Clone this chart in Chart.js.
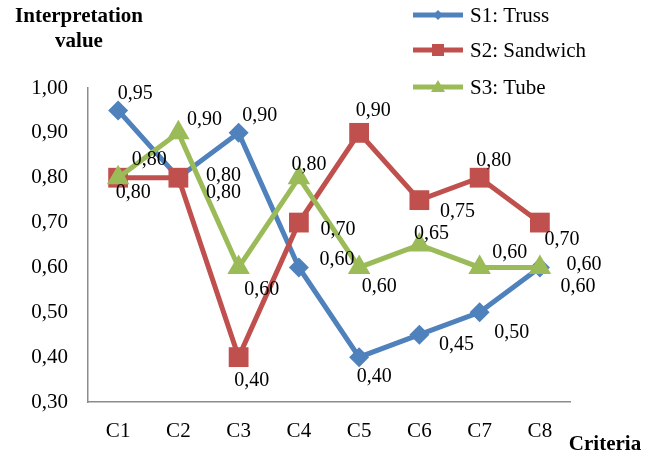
<!DOCTYPE html>
<html lang="en">
<head>
  <meta charset="UTF-8">
  <title>Interpretation value by criteria</title>
  <script src="https://cdn.jsdelivr.net/npm/chart.js@4.4.1/dist/chart.umd.min.js"></script>
  <style>
    html, body { margin: 0; padding: 0; background: #fff; }
    #wrap { width: 657px; height: 455px; position: relative; }
  </style>
</head>
<body>
  <div id="wrap"><canvas id="criteriaChart"></canvas></div>

  <script>
    // data
    const criteria = ['C1', 'C2', 'C3', 'C4', 'C5', 'C6', 'C7', 'C8'];
    const truss    = [0.95, 0.80, 0.90, 0.60, 0.40, 0.45, 0.50, 0.60];
    const sandwich = [0.80, 0.80, 0.40, 0.70, 0.90, 0.75, 0.80, 0.70];
    const tube     = [0.80, 0.90, 0.60, 0.80, 0.60, 0.65, 0.60, 0.60];
    const seriesNames = ['S1: Truss', 'S2: Sandwich', 'S3: Tube'];

    // where each value label sits relative to its point (px)
    const labelOffsets = [
      [[17, -17], [45, -2], [21, -17], [38, -8], [15, 20], [37, 10], [32, 20], [44, -3]],
      [[15, 15], [45, 15], [13, 24], [39, 7], [14, -22], [38, 12], [14, -17], [22, 17]],
      [[31, -18], [26, -13], [23, 22], [10, -13], [20, 19], [12, -11], [30, -15], [38, 19]]
    ];

    const colors = ['#4F81BD', '#C0504D', '#9BBB59'];
    const shapes = ['rectRot', 'rect', 'triangle'];
    const radii = [10, 14, 13];
    const serif = "'Liberation Serif', 'Times New Roman', serif";

    function fmt(v) {
      return v.toFixed(2).replace('.', ',');
    }

    // value labels next to every point
    const valueLabels = {
      id: 'valueLabels',
      afterDatasetsDraw(chart) {
        const ctx = chart.ctx;
        ctx.save();
        ctx.font = '20px ' + serif;
        ctx.fillStyle = '#000';
        ctx.textAlign = 'center';
        ctx.textBaseline = 'middle';
        chart.data.datasets.forEach((ds, i) => {
          const meta = chart.getDatasetMeta(i);
          meta.data.forEach((pt, j) => {
            const off = labelOffsets[i][j];
            ctx.fillText(fmt(ds.data[j]), pt.x + off[0], pt.y + off[1]);
          });
        });
        ctx.restore();
      }
    };

    // axis titles and the legend in the top right
    const extras = {
      id: 'extras',
      afterDraw(chart) {
        const ctx = chart.ctx;
        ctx.save();
        ctx.fillStyle = '#000';
        ctx.font = 'bold 21px ' + serif;
        ctx.textAlign = 'center';
        ctx.textBaseline = 'middle';
        ctx.fillText('Interpretation', 79, 17);
        ctx.fillText('value', 79, 42);
        ctx.fillText('Criteria', 605, 445);

        const rows = [15, 50, 87];
        ctx.font = '21px ' + serif;
        ctx.textAlign = 'left';
        rows.forEach((y, i) => {
          ctx.strokeStyle = colors[i];
          ctx.lineWidth = 5;
          ctx.beginPath();
          ctx.moveTo(413, y);
          ctx.lineTo(463, y);
          ctx.stroke();
          ctx.fillStyle = colors[i];
          ctx.beginPath();
          if (i === 0) {
            ctx.moveTo(438, y - 5); ctx.lineTo(443, y); ctx.lineTo(438, y + 5); ctx.lineTo(433, y);
          } else if (i === 1) {
            ctx.rect(432, y - 6, 12, 12);
          } else {
            ctx.moveTo(438, y - 7); ctx.lineTo(445, y + 5); ctx.lineTo(431, y + 5);
          }
          ctx.closePath();
          ctx.fill();
          ctx.fillStyle = '#000';
          ctx.fillText(seriesNames[i], 470, y + 1);
        });
        ctx.restore();
      }
    };

    const seriesData = [truss, sandwich, tube];
    const datasets = seriesData.map((d, i) => ({
      label: seriesNames[i],
      data: d,
      borderColor: colors[i],
      backgroundColor: colors[i],
      borderWidth: 5,
      pointStyle: shapes[i],
      pointRadius: radii[i],
      pointHoverRadius: radii[i],
      pointBorderWidth: 0,
      tension: 0,
      order: 3 - i
    }));

    const ctx = document.getElementById('criteriaChart').getContext('2d');
    new Chart(ctx, {
      type: 'line',
      data: { labels: criteria, datasets: datasets },
      options: {
        responsive: true,
        maintainAspectRatio: false,
        animation: false,
        layout: { padding: { left: 0, top: 88, right: 87, bottom: 0 } },
        plugins: {
          legend: { display: false },
          tooltip: { enabled: false }
        },
        scales: {
          x: {
            offset: true,
            grid: { display: false, drawTicks: false },
            border: { display: true, color: '#8c8c8c', width: 1.5 },
            ticks: { color: '#000', font: { family: serif, size: 21 }, padding: 17 },
            afterFit(scale) { scale.height = 53; }
          },
          y: {
            min: 0.3,
            max: 1.0,
            grid: { display: false, drawTicks: false },
            border: { display: true, color: '#8c8c8c', width: 1.5 },
            ticks: {
              stepSize: 0.1,
              color: '#000',
              padding: 20,
              font: { family: serif, size: 21 },
              callback: (v) => fmt(v)
            },
            afterFit(scale) { scale.width = 88; }
          }
        }
      },
      plugins: [valueLabels, extras]
    });
  </script>
</body>
</html>
